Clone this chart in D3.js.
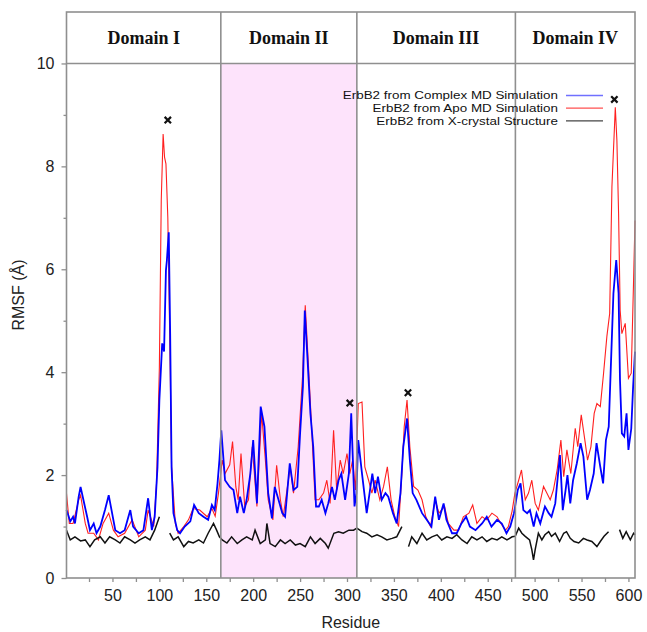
<!DOCTYPE html>
<html>
<head>
<meta charset="utf-8">
<script src="https://cdn.jsdelivr.net/npm/d3@7"></script>
<style>
  body { margin: 0; background: #fff; }
  text { font-family: "Liberation Sans", Arial, sans-serif; }
</style>
</head>
<body>
<div id="my_dataviz"></div>
<script>
// RMSF values (residue, value)
var complexResidue = [1, 5, 8, 10, 14, 16, 19, 23, 26, 30,
  33, 37, 42, 46, 49, 53, 58, 63, 69, 72,
  78, 83, 88, 92, 95, 98, 100, 103, 105, 107,
  108, 110, 111.5, 113, 115, 119, 122, 127, 133, 137,
  142, 147, 152, 156, 159, 162, 164, 166, 170, 175,
  179, 183, 186, 190, 193, 197, 200, 204, 208, 212,
  216, 220, 223, 227, 231, 234, 239, 243, 247, 250,
  253, 255, 258, 261, 264, 267, 270, 273, 277, 280,
  284, 287, 291, 294, 298, 302, 304.5, 308, 310, 312,
  316, 321, 325, 327, 330, 333, 337, 341, 344, 349,
  353, 357, 360, 364, 367, 370, 374, 380, 385, 390,
  394, 398, 403, 406, 412, 417, 422, 427, 431, 437,
  444, 449, 454, 460, 465, 470, 474, 478, 482, 485,
  488, 492, 495, 499, 502, 506, 511, 515, 518, 522,
  525, 527, 530, 533, 535, 538, 541, 545, 549, 552,
  556, 559, 563, 566, 570, 573, 576, 579, 581, 584,
  587, 589.5, 591, 593, 595.5, 598, 600, 603, 605, 607];
var complexRmsf = [1.32, 1.10, 1.19, 1.06, 1.58, 1.77, 1.52, 1.19, 0.93, 1.06,
  0.87, 1.00, 1.32, 1.61, 1.32, 0.93, 0.87, 0.93, 1.32, 1.00,
  0.87, 0.93, 1.55, 0.93, 1.19, 2.16, 3.46, 4.56, 4.40, 5.98,
  6.17, 6.72, 4.75, 2.16, 1.26, 0.93, 0.87, 1.00, 1.10, 1.42,
  1.26, 1.19, 1.13, 1.42, 1.32, 1.84, 2.29, 2.87, 1.90, 1.77,
  1.71, 1.26, 1.58, 1.26, 1.52, 2.03, 2.68, 1.45, 3.33, 2.94,
  1.65, 1.16, 1.77, 1.52, 1.26, 1.19, 2.23, 1.71, 1.77, 2.81,
  3.72, 5.20, 4.23, 3.20, 2.55, 1.39, 1.39, 1.52, 1.26, 1.45,
  1.77, 1.52, 1.90, 2.03, 1.52, 2.03, 3.20, 1.39, 1.65, 2.68,
  2.03, 1.26, 1.77, 2.03, 1.65, 1.97, 1.52, 1.65, 1.58, 1.26,
  1.06, 1.65, 2.55, 3.10, 2.29, 1.65, 1.52, 1.26, 1.13, 1.00,
  1.58, 1.13, 1.45, 1.13, 0.87, 0.87, 1.06, 1.19, 1.00, 0.93,
  1.06, 1.19, 1.00, 1.13, 1.06, 0.87, 1.00, 1.26, 1.71, 1.84,
  1.32, 1.26, 1.32, 1.00, 1.26, 1.06, 1.39, 1.26, 1.19, 1.45,
  2.03, 2.39, 1.32, 1.71, 2.00, 1.45, 1.90, 2.23, 2.62, 2.36,
  1.52, 1.71, 2.03, 2.62, 2.16, 1.84, 2.68, 2.94, 3.98, 5.53,
  6.18, 5.53, 3.85, 2.81, 2.75, 3.20, 2.49, 2.90, 3.72, 4.40];

var apoResidue = [1, 4, 8, 14, 16, 21, 24, 30, 35, 40,
  46, 51, 56, 63, 71, 78, 85, 88, 94, 97,
  100, 102, 104, 105.5, 107, 109, 111, 113, 117, 120,
  126, 131, 136, 143, 151, 156, 159.5, 163, 167, 170,
  175, 178, 181.5, 184, 187, 191, 195, 199, 204, 209,
  213, 216, 221, 225, 229, 232, 239.5, 243, 248, 252.6,
  255.5, 259, 262.6, 266, 270, 275, 278.5, 282, 285.7, 289,
  292.8, 296, 300, 303, 306, 309, 312, 316, 319, 323,
  326.5, 330, 335, 339, 343, 347, 351, 355, 358.5, 361,
  364, 367, 371, 375.6, 380, 384, 389, 394, 398, 404,
  408, 414, 419, 424, 430, 434, 438.5, 444, 449, 454.5,
  460, 464, 469, 472, 476, 479, 483, 486, 490, 493.5,
  497, 500.6, 504, 509.5, 513, 516.6, 520, 524, 528, 531,
  534.4, 538.6, 543.3, 546, 549.7, 554, 556.4, 560, 563.5, 566.4,
  570, 573.5, 577, 580, 582.4, 586, 587.7, 589.5, 591.2, 593,
  596.6, 600, 603, 605.5, 607];
var apoRmsf = [1.64, 1.06, 1.06, 1.52, 1.61, 1.06, 0.87, 0.87, 0.74, 1.06,
  1.26, 0.93, 0.80, 0.87, 1.13, 0.80, 0.93, 1.32, 1.00, 1.84,
  4.10, 7.34, 8.63, 8.18, 8.05, 7.00, 4.75, 2.16, 1.06, 0.87,
  1.00, 1.13, 1.35, 1.32, 1.19, 1.35, 1.20, 1.65, 2.29, 2.03,
  2.20, 2.65, 1.77, 1.52, 2.42, 1.39, 1.52, 2.55, 1.39, 3.20,
  2.29, 1.52, 1.13, 2.19, 1.52, 1.19, 2.16, 1.65, 2.55, 3.91,
  5.30, 4.10, 2.81, 1.52, 1.52, 1.65, 1.90, 1.45, 2.87, 1.71,
  2.29, 2.03, 2.42, 2.03, 2.29, 1.71, 3.39, 3.42, 2.16, 1.90,
  1.65, 1.90, 1.52, 1.78, 2.16, 1.52, 1.19, 1.00, 2.03, 2.94,
  3.46, 2.55, 1.78, 1.71, 1.52, 1.19, 1.00, 1.52, 1.26, 1.39,
  1.06, 0.93, 0.93, 1.19, 1.26, 1.42, 1.06, 1.19, 1.13, 1.26,
  1.19, 1.06, 0.93, 1.00, 1.30, 1.65, 1.90, 2.10, 1.52, 1.65,
  1.90, 1.45, 1.32, 1.78, 1.65, 1.52, 1.71, 2.10, 2.68, 1.97,
  2.49, 2.03, 2.91, 2.55, 3.17, 2.62, 2.29, 2.55, 3.20, 3.39,
  3.33, 3.98, 4.69, 5.14, 7.60, 9.15, 8.50, 7.08, 5.20, 4.75,
  4.95, 3.88, 3.98, 5.79, 6.95];

// null = residue missing in the crystal structure
var crystalResidue = [1, 5, 10, 16, 21, 26, 31, 37, 42, 47,
  53, 58, 63, 69, 74, 79, 85, 90, 95, 100,
  104, 111, 115, 120, 126, 131, 136, 142, 147, 152,
  157.7, 161, 164, 167, 172, 177, 183, 188, 193, 199,
  202, 207.5, 213, 214.6, 218, 223.5, 229, 234, 239.5, 245,
  250, 255.5, 261, 266, 271.5, 277, 280, 286, 291, 296,
  302, 307, 310.5, 316, 321, 326.5, 332, 337, 342.5, 348,
  353, 358.5, 362, 365.6, 369, 374.5, 380, 385, 390.5, 396,
  401, 406.5, 412, 417, 422.5, 428, 433, 438.5, 444, 449,
  454.5, 460, 465, 470.5, 476, 479.3, 483, 486.4, 490, 494.6,
  497, 498.8, 500.6, 504, 507.7, 511, 515, 518, 522, 526.6,
  531, 534, 538, 542, 547, 552, 556, 561, 566.4, 570,
  574, 578.8, 584, 590.5, 594, 597.6, 602, 605.5, 607];
var crystalRmsf = [0.93, 0.74, 0.80, 0.72, 0.74, 0.61, 0.74, 0.80, 0.68, 0.80,
  0.74, 0.68, 0.80, 0.74, 0.68, 0.74, 0.80, 0.74, 0.93, 1.19,
  null, 0.87, 0.74, 0.80, 0.61, 0.71, 0.68, 0.74, 0.68, 0.87,
  1.06, 0.93, 0.80, 0.74, 0.68, 0.80, 0.67, 0.74, 0.80, 0.74,
  0.93, 0.67, 0.74, 1.06, 0.67, 0.61, 0.74, 0.67, 0.74, 0.64,
  0.67, 0.61, 0.80, 0.67, 0.77, 0.67, 0.58, 0.87, 0.90, 0.87,
  0.93, 0.93, 0.97, 0.90, 0.87, 0.80, 0.84, 0.80, 0.74, 0.77,
  0.80, 1.00, null, 0.61, 0.80, 0.67, 0.87, 0.74, 0.80, 0.84,
  0.74, 0.80, 0.77, 0.84, 0.74, 0.67, 0.80, 0.74, 0.80, 0.71,
  0.77, 0.74, 0.80, 0.74, 0.80, 0.81, 0.97, 0.87, 0.81, 0.74,
  0.55, 0.35, 0.55, 0.87, 0.74, 0.84, 0.90, 0.81, 0.87, 0.71,
  0.87, 0.90, 0.77, 0.71, 0.68, 0.77, 0.74, 0.71, 0.61, 0.71,
  0.81, 0.90, null, 0.94, 0.77, 0.90, 0.74, 0.87, 0.84];

var markerResidue = [109, 303, 365, 585];
var markerRmsf = [8.9, 3.4, 3.6, 9.3];

var domainNames = ["Domain I", "Domain II", "Domain III", "Domain IV"];
var domainBounds = [1, 165.5, 310.5, 479.5, 607];

var xTicks = [50, 100, 150, 200, 250, 300, 350, 400, 450, 500, 550, 600];
var xMinorTicks = [25, 75, 125, 175, 225, 275, 325, 375, 425, 475, 525, 575];
var yTicks = [0, 2, 4, 6, 8, 10];
var yMinorTicks = [1, 3, 5, 7, 9];

var legendNames = ["ErbB2 from Complex MD Simulation",
  "ErbB2 from Apo MD Simulation",
  "ErbB2 from X-crystal Structure"];

var margin = {top: 12, right: 12, bottom: 54, left: 66.5},
    width = 647 - margin.left - margin.right,
    height = 632 - margin.top - margin.bottom;

var svg = d3.select("#my_dataviz")
    .append("svg")
    .attr("width", 647)
    .attr("height", 632)
    .append("g")
    .attr("transform", "translate(" + margin.left + "," + margin.top + ")");

var x = d3.scaleLinear().domain([1, 607]).range([0, width]);
var y = d3.scaleLinear().domain([0, 11]).range([height, 0]);

var frameColor = "#8f8f8f";

// pink band behind domain II
svg.append("rect")
    .attr("x", x(domainBounds[1]))
    .attr("y", y(10))
    .attr("width", x(domainBounds[2]) - x(domainBounds[1]))
    .attr("height", y(0) - y(10))
    .style("fill", "#fde3fb");

// axes (ticks only, frame drawn separately)
svg.append("g")
    .attr("transform", "translate(0," + height + ")")
    .call(d3.axisBottom(x).tickValues(xTicks).tickSize(4).tickPadding(8));
svg.append("g")
    .attr("transform", "translate(0," + height + ")")
    .call(d3.axisBottom(x).tickValues(xMinorTicks).tickSize(4).tickFormat(""));
svg.append("g")
    .call(d3.axisLeft(y).tickValues(yTicks).tickSize(5).tickPadding(7));
svg.append("g")
    .call(d3.axisLeft(y).tickValues(yMinorTicks).tickSize(3).tickFormat(""));

svg.selectAll(".domain").remove();
svg.selectAll(".tick line").style("stroke", frameColor).style("stroke-width", 1.3);
svg.selectAll(".tick text")
    .style("font-family", "'Liberation Sans', Arial, sans-serif")
    .style("font-size", "16px")
    .style("fill", "#222");

// data lines
var line = function(res, vals) {
  return d3.line()
      .defined(function(d, i) { return vals[i] !== null; })
      .x(function(d, i) { return x(res[i]); })
      .y(function(d, i) { return y(vals[i]); })(res);
};

svg.append("path")
    .attr("d", line(apoResidue, apoRmsf))
    .style("fill", "none")
    .style("stroke", "#ff2020")
    .style("stroke-width", 1.1);

svg.append("path")
    .attr("d", line(complexResidue, complexRmsf))
    .style("fill", "none")
    .style("stroke", "#0000ff")
    .style("stroke-width", 1.8);

svg.append("path")
    .attr("d", line(crystalResidue, crystalRmsf))
    .style("fill", "none")
    .style("stroke", "#111")
    .style("stroke-width", 1.5);

// x markers on highlighted peaks
svg.selectAll("mymarkers")
    .data(markerResidue)
    .enter()
    .append("path")
    .attr("d", d3.symbol().type(d3.symbolX).size(28))
    .attr("transform", function(d, i) {
      return "translate(" + x(d) + "," + y(markerRmsf[i]) + ")"; })
    .style("stroke", "#111")
    .style("stroke-width", 2.2);

// frame, header row and domain separators
svg.append("rect")
    .attr("x", 0)
    .attr("y", 0)
    .attr("width", width)
    .attr("height", height)
    .style("fill", "none")
    .style("stroke", frameColor)
    .style("stroke-width", 1.6);

svg.append("line")
    .attr("x1", 0).attr("x2", width)
    .attr("y1", y(10)).attr("y2", y(10))
    .style("stroke", frameColor)
    .style("stroke-width", 1.6);

svg.selectAll("seps")
    .data(domainBounds.slice(1, 4))
    .enter()
    .append("line")
    .attr("x1", function(d) { return x(d); })
    .attr("x2", function(d) { return x(d); })
    .attr("y1", 0)
    .attr("y2", height)
    .style("stroke", frameColor)
    .style("stroke-width", 1.6);

svg.selectAll("domainlabels")
    .data(domainNames)
    .enter()
    .append("text")
    .attr("x", function(d, i) {
      return (Math.max(0, x(domainBounds[i])) + Math.min(width, x(domainBounds[i + 1]))) / 2; })
    .attr("y", 31.5)
    .attr("text-anchor", "middle")
    .style("font-family", "'Liberation Serif', 'Times New Roman', serif")
    .style("font-weight", "bold")
    .style("font-size", "18px")
    .style("fill", "#111")
    .text(function(d) { return d; });

// legend (text is a bit stretched sideways, like the original)
var legendColors = ["#7070ff", "#ff5050", "#444"];
var legend = svg.selectAll("legend")
    .data(legendNames)
    .enter()
    .append("g")
    .attr("transform", function(d, i) { return "translate(0," + (83.5 + i * 12.7) + ")"; });
legend.append("text")
    .attr("transform", "translate(491.5,0) scale(1.22,1)")
    .attr("dy", "0.36em")
    .attr("text-anchor", "end")
    .style("font-size", "11px")
    .style("fill", "#111")
    .text(function(d) { return d; });
legend.append("line")
    .attr("x1", 499.5).attr("x2", 536.5)
    .attr("y1", 0).attr("y2", 0)
    .style("stroke", function(d, i) { return legendColors[i]; })
    .style("stroke-width", 1.3);

// axis titles
svg.append("text")
    .attr("x", width / 2)
    .attr("y", height + 50)
    .attr("text-anchor", "middle")
    .style("font-size", "16px")
    .style("fill", "#222")
    .text("Residue");

svg.append("text")
    .attr("transform", "rotate(-90)")
    .attr("x", -(y(5.5)))
    .attr("y", -43)
    .attr("text-anchor", "middle")
    .style("font-size", "16px")
    .style("fill", "#222")
    .text("RMSF (\u00c5)");
</script>
</body>
</html>
